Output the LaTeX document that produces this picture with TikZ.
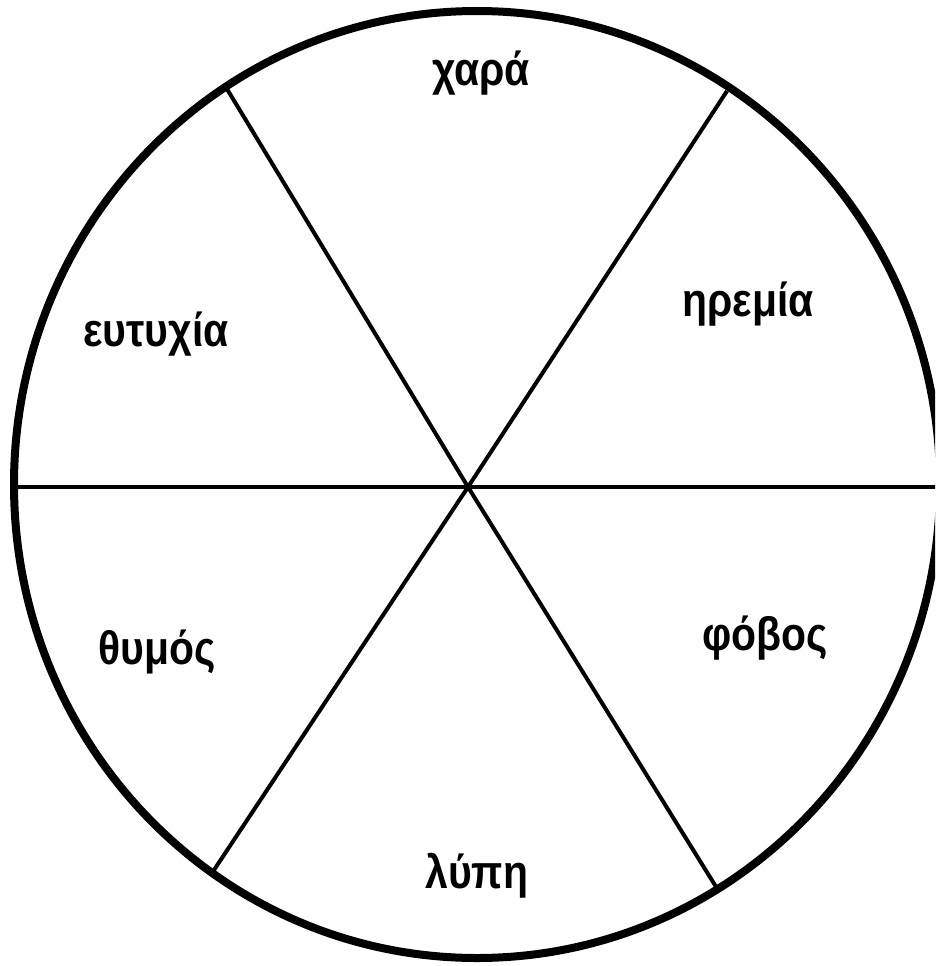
\documentclass[tikz,border=0pt]{standalone}
\usepackage{fontspec}
\setmainfont{Liberation Sans}[FakeStretch=0.87]
\usepackage{tikz}
\usetikzlibrary{positioning, calc}

\begin{document}
\begin{tikzpicture}[x=1pt, y=-1pt,
    rim/.style={line width=8pt},
    spoke/.style={line width=4pt},
    feeling/.style={font=\fontsize{47}{54}\selectfont\bfseries, inner sep=0pt}]
  \useasboundingbox (0,0) rectangle (935,966);
  \clip (0,0) rectangle (935,966);
  % wheel
  \draw[rim] (477,484.5) ellipse [x radius=463, y radius=473.5];
  \coordinate (hub) at (468,487);
  \coordinate (w) at (14,487);
  \coordinate (e) at (945,487);
  \coordinate (nw) at (227,89);
  \coordinate (ne) at (727,91);
  \coordinate (sw) at (212,873);
  \coordinate (se) at (718,890);
  \draw[spoke] (w) -- (e);
  \foreach \c in {nw,ne,sw,se}{
    \draw[spoke] (hub) -- (\c);
  }
  % labels
  \node[feeling] (chara) at (481,73) {χαρά};
  \node[feeling] (iremia) at (748,304) {ηρεμία};
  \node[feeling] (eftychia) at (156,334) {ευτυχία};
  \node[feeling] (thymos) at (157,652) {θυμός};
  \node[feeling] (fovos) at (765,638) {φόβος};
  \node[feeling] (lypi) at (477,876) {λύπη};
\end{tikzpicture}
\end{document}
